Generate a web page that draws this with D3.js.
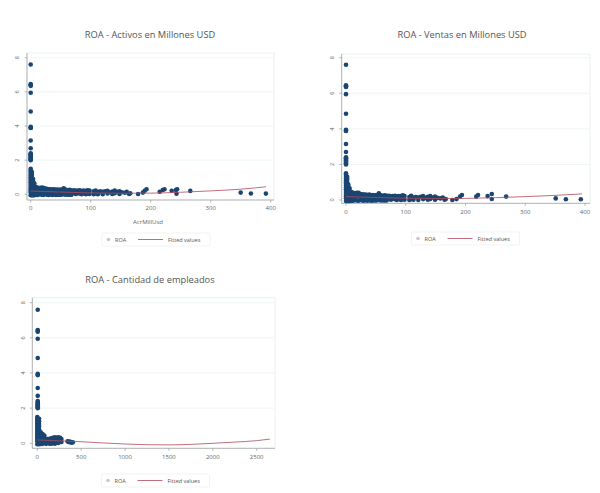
<!DOCTYPE html>
<html>
<head>
<meta charset="utf-8">
<script src="https://cdn.jsdelivr.net/npm/d3@7"></script>
<style>
  body { margin: 0; background: #fff; }
  text { font-family: "Open Sans", sans-serif; }
</style>
</head>
<body>
<div id="chart"></div>
<script>
// ROA values of the tall column near x = 0 (shared by the three panels)
var roaTop = [7.6, 6.45, 6.4, 6.35, 5.95, 4.85, 3.95, 3.9, 3.88, 3.15, 2.7,
  2.4, 2.35, 2.3, 2.25, 2.2, 2.15, 2.1, 2.05, 2.0];

// dense part, [x, roa]
var activos = [
  [0,1.5],[0,1.4],[0,1.3],[0,1.2],[0,1.1],[0,1.0],[0,0.9],[0,0.8],[0,0.7],[0,0.6],[0,0.5],[0,0.4],[0,0.3],[0,0.2],[0,0.1],[0,-0.05],
  [2,1.3],[2,1.15],[2,1.0],[2,0.85],[2,0.7],[2,0.55],[2,0.4],[2,0.25],[2,0.1],[2,-0.05],
  [4,0.9],[4,0.75],[4,0.6],[4,0.45],[4,0.3],[4,0.15],[4,-0.05],
  [6,0.65],[6,0.5],[6,0.35],[6,0.2],[6,0.05],[6,-0.05],
  [9,0.42],[9,0.28],[9,0.14],[9,-0.04],[12,0.38],[12,0.24],[12,0.1],[12,-0.04],
  [15,0.36],[15,0.2],[15,0.05],[18,0.4],[18,0.24],[18,-0.03],[21,0.38],[21,0.2],[21,-0.04],
  [24,0.34],[24,0.2],[24,0.04],[27,0.32],[27,0.15],[27,-0.03],[30,0.3],[30,0.14],[30,-0.04],
  [33,0.3],[33,0.16],[33,0.0],[36,0.28],[36,0.12],[36,-0.04],[39,0.3],[39,0.14],[39,0.0],
  [42,0.26],[42,0.1],[42,-0.04],[45,0.28],[45,0.14],[45,-0.03],[48,0.26],[48,0.12],[48,-0.02],
  [51,0.28],[51,0.14],[51,-0.03],[55,0.35],[55,0.18],[55,0.0],[58,0.28],[58,0.12],[58,-0.03],
  [62,0.24],[62,0.1],[62,-0.03],[65,0.26],[65,0.12],[65,-0.02],[68,0.22],[68,0.08],[68,-0.03],
  [72,0.24],[72,0.08],[75,0.2],[75,0.02],[78,0.22],[78,0.06],[82,0.24],[82,0.04],
  [85,0.18],[85,0.0],[88,0.22],[88,0.06],[92,0.2],[92,0.0],[95,0.24],[95,0.05],[98,0.22],[98,0.02],
  [105,0.17],[105,0.0],[108,0.22],[108,0.05],[112,0.14],[112,0.01],[116,0.17],[120,0.14],[120,0.0],
  [124,0.18],[128,0.2],[128,0.05],[132,0.12],[136,0.16],[136,0.02],[140,0.22],[140,0.06],[144,0.14],
  [148,0.17],[148,0.02],[152,0.12],[157,0.09],[160,0.14],[164,0.02],[166,0.06],
  [179,0.02],[187,0.1],[190,0.21],[193,0.3],[215,0.15],[220,0.25],[223,0.3],[235,0.21],
  [242,0.25],[244,0.3],[243,0.03],[266,0.2],[350,0.1],[367,0.05],[392,0.04]
];

var ventas = [
  [0,1.5],[0,1.4],[0,1.3],[0,1.2],[0,1.1],[0,1.0],[0,0.9],[0,0.8],[0,0.7],[0,0.6],[0,0.5],[0,0.4],[0,0.3],[0,0.2],[0,0.1],[0,-0.05],
  [2,1.3],[2,1.15],[2,1.0],[2,0.85],[2,0.7],[2,0.55],[2,0.4],[2,0.25],[2,0.1],[2,-0.05],
  [4,0.85],[4,0.7],[4,0.55],[4,0.4],[4,0.25],[4,0.1],[4,-0.05],
  [6,0.66],[6,0.5],[6,0.35],[6,0.2],[6,0.05],[6,-0.05],
  [9,0.44],[9,0.28],[9,0.14],[9,-0.04],[12,0.4],[12,0.24],[12,0.1],[12,-0.04],
  [15,0.36],[15,0.2],[15,0.05],[18,0.4],[18,0.24],[18,-0.03],[21,0.4],[21,0.2],[21,-0.04],
  [24,0.34],[24,0.2],[24,0.04],[27,0.32],[27,0.15],[27,-0.03],[30,0.3],[30,0.14],[30,-0.04],
  [33,0.3],[33,0.16],[33,0.0],[36,0.28],[36,0.12],[36,-0.04],[39,0.3],[39,0.14],[39,0.0],
  [42,0.26],[42,0.1],[42,-0.04],[45,0.28],[45,0.14],[45,-0.03],[48,0.26],[48,0.12],[48,-0.02],
  [51,0.28],[51,0.14],[51,-0.03],[55,0.37],[55,0.18],[55,0.0],[58,0.28],[58,0.12],[58,-0.03],
  [62,0.24],[62,0.1],[62,-0.03],[65,0.26],[65,0.12],[65,-0.02],[68,0.24],[68,0.08],[68,-0.03],
  [72,0.24],[72,0.08],[75,0.2],[75,0.02],[78,0.22],[78,0.06],[82,0.24],[82,0.04],
  [85,0.2],[85,0.0],[88,0.22],[88,0.06],[92,0.22],[92,0.0],[95,0.26],[95,0.05],[98,0.22],[98,0.02],
  [106,0.17],[106,0.0],[109,0.24],[109,0.05],[113,0.14],[113,0.01],[117,0.17],[121,0.14],[121,0.0],
  [125,0.18],[129,0.22],[129,0.05],[133,0.12],[137,0.18],[137,0.02],[141,0.22],[141,0.06],[145,0.14],
  [149,0.19],[149,0.02],[153,0.12],[158,0.09],[162,0.14],[165,0.02],[167,0.06],
  [178,0],[185,0.05],[191,0.2],[194,0.28],[218,0.19],[221,0.28],[237,0.22],
  [244,0.34],[244,0.06],[268,0.19],[351,0.09],[368,0.04],[393,0.04]
];

var empleados = [
  [0,1.5],[0,1.4],[0,1.3],[0,1.2],[0,1.1],[0,1.0],[0,0.9],[0,0.8],[0,0.7],[0,0.6],[0,0.5],[0,0.4],[0,0.3],[0,0.2],[0,0.1],[0,-0.05],
  [20,1.4],[20,1.25],[20,1.1],[20,0.95],[20,0.8],[20,0.65],[20,0.5],[20,0.35],[20,0.2],[20,0.05],[20,-0.05],
  [40,0.62],[40,0.45],[40,0.3],[40,0.15],[40,-0.04],
  [60,0.52],[60,0.34],[60,0.18],[60,-0.03],[80,0.44],[80,0.24],[80,0.04],
  [100,0.26],[100,0.12],[100,-0.03],[120,0.24],[120,0.06],[140,0.26],[140,0.12],[140,-0.02],
  [160,0.28],[160,0.14],[160,-0.02],[180,0.32],[180,0.17],[180,0.02],[200,0.34],[200,0.17],[200,-0.02],
  [220,0.32],[220,0.14],[220,0.03],[240,0.34],[240,0.17],[240,0.02],[260,0.32],[260,0.14],
  [275,0.24],[275,0.08],
  [345,0.12],[355,0.08],[370,0.1],[380,0.05],[395,0.04],[405,0.06]
];

// fitted values (quadratic fit)
var fitActivos = [[0,0.19],[50,0.13],[100,0.08],[150,0.06],[200,0.07],[250,0.12],[300,0.2],[350,0.3],[392,0.44]];
var fitVentas = [[0,0.19],[50,0.14],[100,0.1],[150,0.08],[200,0.09],[250,0.13],[300,0.19],[350,0.26],[395,0.34]];
var fitEmpleados = [[0,0.19],[250,0.14],[500,0.09],[750,0.02],[1000,-0.04],[1250,-0.08],[1500,-0.09],
  [1750,-0.06],[2000,0.0],[2250,0.07],[2500,0.15],[2650,0.24]];

var yTicks = [0, 2, 4, 6, 8];
var xTicksUsd = [0, 100, 200, 300, 400];
var xTicksEmp = [0, 500, 1000, 1500, 2000, 2500];

var panels = [
  { title: "ROA - Activos en Millones USD", data: activos, fit: fitActivos, topX: 0,
    xDom: [0, 400], xRange: [30.7, 270.7], yRange: [194.3, 57.7],
    box: [27, 53, 274, 200], xTicks: xTicksUsd, xTitle: "AcrMillUsd",
    titleX: 150, titleY: 38, tickLabY: 210, yLabX: 17, legX: 102, legY: 233 },
  { title: "ROA - Ventas en Millones USD", data: ventas, fit: fitVentas, topX: 0,
    xDom: [0, 400], xRange: [346, 585], yRange: [200, 57.7],
    box: [341.7, 54, 590, 203.3], xTicks: xTicksUsd, xTitle: null,
    titleX: 462, titleY: 38, tickLabY: 214, yLabX: 332, legX: 411.5, legY: 232 },
  { title: "ROA - Cantidad de empleados", data: empleados, fit: fitEmpleados, topX: 5,
    xDom: [0, 2500], xRange: [37.3, 256.7], yRange: [443.3, 302.7],
    box: [32.3, 297.7, 275, 448.3], xTicks: xTicksEmp, xTitle: null,
    titleX: 150, titleY: 283, tickLabY: 459, yLabX: 23, legX: 101.5, legY: 474 }
];

var navy = "#1a4572";
var fitColor = "#b04a58";

var svg = d3.select("#chart").append("svg")
  .attr("width", 600).attr("height", 493);

panels.forEach(function(p) {
  var x = d3.scaleLinear().domain(p.xDom).range(p.xRange);
  var y = d3.scaleLinear().domain([0, 8]).range(p.yRange);
  var g = svg.append("g");
  var b = p.box;

  // plot region frame
  g.append("rect").attr("x", b[0]).attr("y", b[1])
    .attr("width", b[2] - b[0]).attr("height", b[3] - b[1])
    .attr("fill", "none").attr("stroke", "#e6eef1").attr("stroke-width", 0.8);

  // grid
  g.selectAll(".grid").data(yTicks.slice(1)).enter().append("line")
    .attr("x1", b[0]).attr("x2", b[2])
    .attr("y1", d => y(d)).attr("y2", d => y(d))
    .attr("stroke", "#eaf2f4").attr("stroke-width", 0.8);

  // axes
  g.append("line").attr("x1", b[0]).attr("x2", b[0]).attr("y1", b[1]).attr("y2", b[3])
    .attr("stroke", "#9a9a9a").attr("stroke-width", 0.7);
  g.append("line").attr("x1", b[0]).attr("x2", b[2]).attr("y1", b[3]).attr("y2", b[3])
    .attr("stroke", "#9a9a9a").attr("stroke-width", 0.7);

  g.selectAll(".yt").data(yTicks).enter().append("line")
    .attr("x1", b[0] - 2.5).attr("x2", b[0])
    .attr("y1", d => y(d)).attr("y2", d => y(d))
    .attr("stroke", "#9a9a9a").attr("stroke-width", 0.7);
  g.selectAll(".yl").data(yTicks).enter().append("text")
    .attr("transform", d => "translate(" + p.yLabX + "," + y(d) + ") rotate(-90)")
    .attr("text-anchor", "middle").attr("dy", "0.35em")
    .attr("font-size", 5.5).attr("fill", "#666").text(d => d);

  g.selectAll(".xt").data(p.xTicks).enter().append("line")
    .attr("x1", d => x(d)).attr("x2", d => x(d))
    .attr("y1", b[3]).attr("y2", b[3] + 2.5)
    .attr("stroke", "#9a9a9a").attr("stroke-width", 0.7);
  g.selectAll(".xl").data(p.xTicks).enter().append("text")
    .attr("x", d => x(d)).attr("y", p.tickLabY)
    .attr("text-anchor", "middle")
    .attr("font-size", 6).attr("fill", "#666").text(d => d);

  if (p.xTitle) {
    g.append("text").attr("x", 148).attr("y", 224)
      .attr("text-anchor", "middle").attr("font-size", 6).attr("fill", "#666")
      .text(p.xTitle);
  }

  // title
  g.append("text").attr("x", p.titleX).attr("y", p.titleY)
    .attr("text-anchor", "middle").attr("font-size", 9.3).attr("fill", "#555")
    .text(p.title);

  // points
  var pts = p.data.concat(roaTop.map(v => [p.topX, v]));
  g.selectAll(".pt").data(pts).enter().append("circle")
    .attr("cx", d => x(d[0])).attr("cy", d => y(d[1]))
    .attr("r", 2.3).attr("fill", navy);

  // fitted line
  var line = d3.line().x(d => x(d[0])).y(d => y(d[1])).curve(d3.curveMonotoneX);
  g.append("path").datum(p.fit).attr("d", line)
    .attr("fill", "none").attr("stroke", fitColor).attr("stroke-width", 0.8);

  // legend
  var lg = g.append("g").attr("transform", "translate(" + p.legX + "," + p.legY + ")");
  lg.append("rect").attr("width", 108).attr("height", 13).attr("rx", 1)
    .attr("fill", "#fff").attr("stroke", "#eeeeee").attr("stroke-width", 0.7);
  lg.append("circle").attr("cx", 6.5).attr("cy", 6.5).attr("r", 1.8).attr("fill", "#c8c8c8");
  lg.append("text").attr("x", 13).attr("y", 8.6).attr("font-size", 5.5).attr("fill", "#555").text("ROA");
  lg.append("line").attr("x1", 36).attr("x2", 61).attr("y1", 6.5).attr("y2", 6.5)
    .attr("stroke", fitColor).attr("stroke-width", 0.8);
  lg.append("text").attr("x", 66).attr("y", 8.6).attr("font-size", 5.5).attr("fill", "#555").text("Fitted values");
});
</script>
</body>
</html>
